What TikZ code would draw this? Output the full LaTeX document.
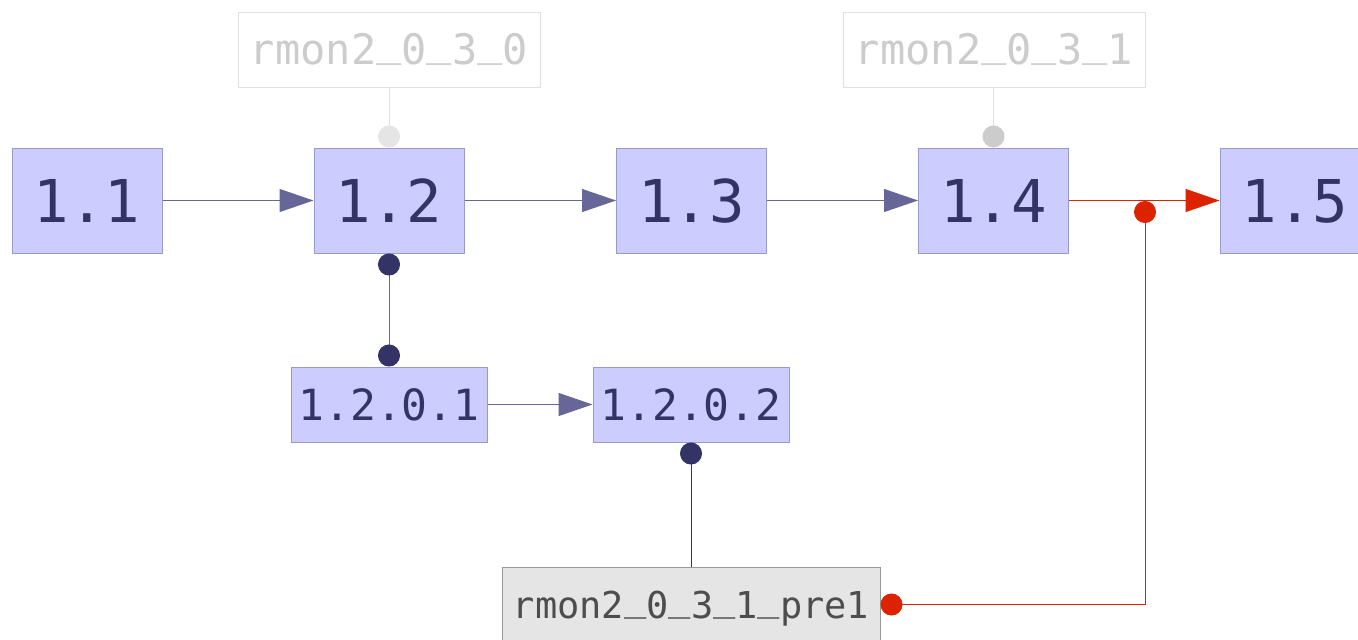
\documentclass[tikz,border=0pt]{standalone}
\usepackage{fontspec}
\newfontfamily\dmono{DejaVu Sans Mono}
\usetikzlibrary{arrows.meta}
\newcommand{\usc}{\raisebox{0.21em}{\_}}
\definecolor{bfill}{HTML}{CCCCFF}
\definecolor{bdraw}{HTML}{9999CC}
\definecolor{btext}{HTML}{333366}
\definecolor{linec}{HTML}{666699}
\definecolor{dotc}{HTML}{333366}
\definecolor{ghostdraw}{HTML}{E0E0E0}
\definecolor{ghosttext}{HTML}{CCCCCC}
\definecolor{ghostdot}{HTML}{E5E5E5}
\definecolor{ghostdotb}{HTML}{CCCCCC}
\definecolor{prefill}{HTML}{E5E5E5}
\definecolor{predraw}{HTML}{999999}
\definecolor{pretext}{HTML}{4D4D4D}
\definecolor{redc}{HTML}{DD2200}
\begin{document}
\begin{tikzpicture}[x=1pt,y=-1pt,
  blk/.style={draw=bdraw, fill=bfill, text=btext, line width=1pt,
    minimum width=150pt, minimum height=105pt, inner sep=0pt,
    font=\dmono\fontsize{59}{59}\selectfont, text height=43pt, text depth=0pt},
  sblk/.style={draw=bdraw, fill=bfill, text=btext, line width=1pt,
    minimum width=196pt, minimum height=75pt, inner sep=0pt,
    font=\dmono\fontsize{43}{43}\selectfont, text height=31.5pt, text depth=0pt},
  ghost/.style={draw=ghostdraw, fill=white, text=ghosttext, line width=1pt,
    minimum width=302pt, minimum height=75pt, inner sep=0pt,
    font=\dmono\fontsize{42}{42}\selectfont, text height=30.5pt, text depth=0pt},
  preblk/.style={draw=predraw, fill=prefill, text=pretext, line width=1pt,
    minimum width=378pt, minimum height=75pt, inner sep=0pt,
    font=\dmono\fontsize{37}{37}\selectfont, text height=27pt, text depth=0pt},
  flow/.style={draw=linec, line width=1pt, -{Triangle[length=34pt,width=23pt,fill=linec]}},
  redflow/.style={draw=redc, line width=1pt, -{Triangle[length=34pt,width=23pt,fill=redc]}},
  dotc1/.style={draw=linec, line width=1pt, {Circle[length=22pt,fill=dotc,color=dotc]}-{Circle[length=22pt,fill=dotc,color=dotc]}},
  dotstart/.style={draw=dotc, line width=1pt, {Circle[length=22pt,fill=dotc,color=dotc]}-},
  ghostlink/.style={draw=ghostdraw, line width=1pt},
]
\useasboundingbox (0,0) rectangle (1358,640);
\clip (0,0) rectangle (1358,640);

\node[blk] (n11) at (87,200.5) {1.1};
\node[blk] (n12) at (389,200.5) {1.2};
\node[blk] (n13) at (691.5,200.5) {1.3};
\node[blk] (n14) at (993.5,200.5) {1.4};
\node[blk] (n15) at (1295,200.5) {1.5};

\node[ghost] (g0) at (389,49.5) {rmon2\usc0\usc3\usc0};
\node[ghost] (g1) at (994,49.5) {rmon2\usc0\usc3\usc1};

\node[sblk] (n1201) at (389,404.5) {1.2.0.1};
\node[sblk] (n1202) at (691,404.5) {1.2.0.2};

\node[preblk] (pre) at (691,604.5) {rmon2\usc0\usc3\usc1\usc pre1};

\coordinate (j) at (1145,201);

\draw[flow] (n11) -- (n12);
\draw[flow] (n12) -- (n13);
\draw[flow] (n13) -- (n14);
\draw[redflow] (n14) -- (n15);
\draw[flow] (n1201) -- (n1202);

\draw[ghostlink, -{Circle[length=22pt,fill=ghostdot,color=ghostdot]}] (g0.south) -- (n12.north);
\draw[ghostlink, -{Circle[length=22pt,fill=ghostdotb,color=ghostdotb]}] (g1.south -| n14.north) -- (n14.north);

\draw[dotc1] (n12.south) -- (n1201.north);
\draw[dotstart] (n1202.south) -- (pre.north);

\draw[draw=redc, line width=1pt, {Circle[length=22pt,fill=redc,color=redc]}-{Circle[length=22pt,fill=redc,color=redc]}] (pre.east) -| (j);
\end{tikzpicture}
\end{document}
